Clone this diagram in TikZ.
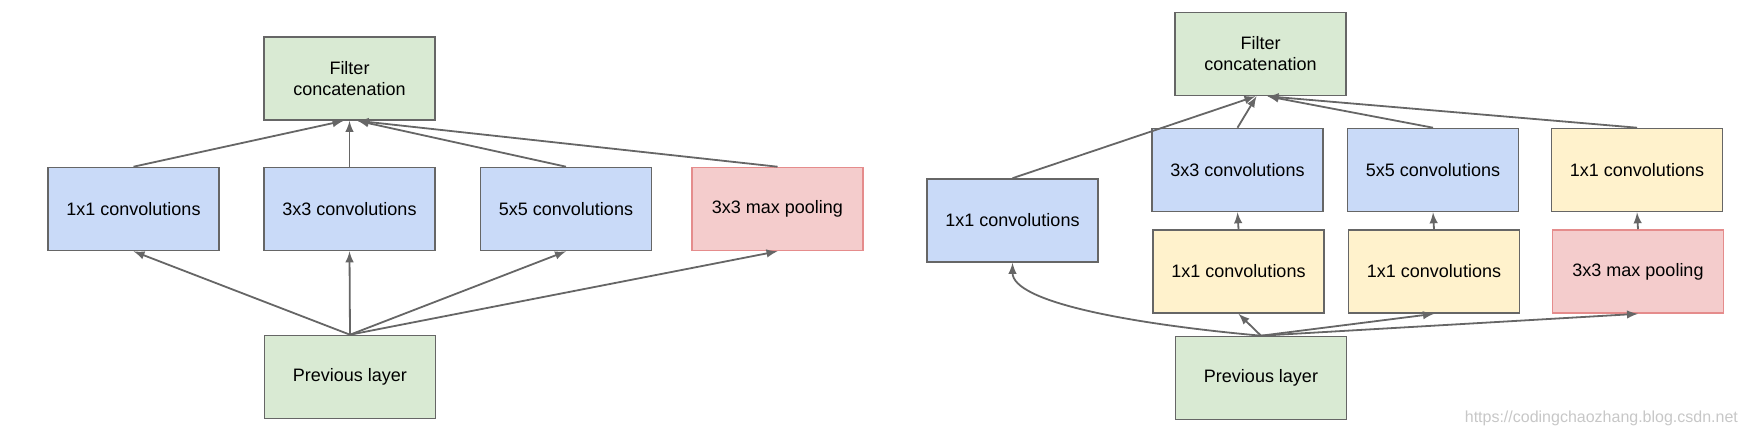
\documentclass[tikz,border=0pt]{standalone}
\usepackage{fontspec}
\setmainfont{Liberation Sans}
\usetikzlibrary{calc, positioning}

\definecolor{convblue}{HTML}{C9DAF8}
\definecolor{concatgreen}{HTML}{D9EAD3}
\definecolor{reduceyellow}{HTML}{FFF2CC}
\definecolor{poolred}{HTML}{F4CCCC}
\definecolor{pooledge}{HTML}{E58C8C}
\definecolor{edgegray}{HTML}{666666}

\begin{document}
\begin{tikzpicture}[>=latex, x=0.5pt, y=-0.5pt,
  box/.style={draw=edgegray, line width=0.8pt, minimum width=85.5pt, minimum height=41.5pt,
    inner sep=0pt, align=center, font=\fontsize{9}{10.5}\selectfont},
  conv/.style={box, fill=convblue},
  concat/.style={box, fill=concatgreen},
  reduce/.style={box, fill=reduceyellow},
  pool/.style={box, fill=poolred, draw=pooledge},
  link/.style={draw=edgegray, line width=0.9pt, ->}]
  \useasboundingbox (0,0) rectangle (1752,436);

  % naive module
  \node [concat] (lfil) at (349.5,78.5) {Filter\\concatenation};
  \node [conv] (l1) at (133.5,209) {1x1 convolutions};
  \node [conv] (l3) at (349.5,209) {3x3 convolutions};
  \node [conv] (l5) at (566,209) {5x5 convolutions};
  \node [pool] (lpool) at (777.5,209) {3x3 max pooling};
  \node [concat] (lprev) at (350,377) {Previous layer};

  \draw [link] (lprev.north) -- (l1.south);
  \draw [link] (lprev.north) -- (l3.south);
  \draw [link] (lprev.north) -- (l5.south);
  \draw [link] (lprev.north) -- (lpool.south);
  \draw [link] (l1.north) -- ($(lfil.south)+(-6,0)$);
  \draw [link] (l3.north) -- (lfil.south);
  \draw [link] (l5.north) -- ($(lfil.south)+(8,0)$);
  \draw [link] (lpool.north) -- ($(lfil.south)+(8,0)$);

  % module with dimension reductions
  \node [concat] (rfil) at (1260.5,54) {Filter\\concatenation};
  \node [conv] (r1) at (1012.5,220.5) {1x1 convolutions};
  \node [conv] (r3) at (1237.5,170) {3x3 convolutions};
  \node [conv] (r5) at (1433,170) {5x5 convolutions};
  \node [reduce] (rp1) at (1637,170) {1x1 convolutions};
  \node [reduce] (ry3) at (1238.5,271.5) {1x1 convolutions};
  \node [reduce] (ry5) at (1434,271.5) {1x1 convolutions};
  \node [pool] (rpool) at (1638,271.5) {3x3 max pooling};
  \node [concat] (rprev) at (1261,378) {Previous layer};

  \draw [link] (rprev.north) .. controls +(-133,-12) and +(0,39) .. (r1.south);
  \draw [link] (rprev.north) -- (ry3.south);
  \draw [link] (rprev.north) -- (ry5.south);
  \draw [link] (rprev.north) -- (rpool.south);
  \draw [link] (ry3.north) -- (r3.south);
  \draw [link] (ry5.north) -- (r5.south);
  \draw [link] (rpool.north) -- (rp1.south);
  \draw [link] (r1.north) -- ($(rfil.south)+(-5,0)$);
  \draw [link] (r3.north) -- ($(rfil.south)+(-4,0)$);
  \draw [link] (r5.north) -- ($(rfil.south)+(7,0)$);
  \draw [link] (rp1.north) -- ($(rfil.south)+(7,0)$);

  \node [anchor=east, text=black!22, font=\fontsize{8}{9}\selectfont] (mark) at (1745,418)
    {https://codingchaozhang.blog.csdn.net};
\end{tikzpicture}
\end{document}
